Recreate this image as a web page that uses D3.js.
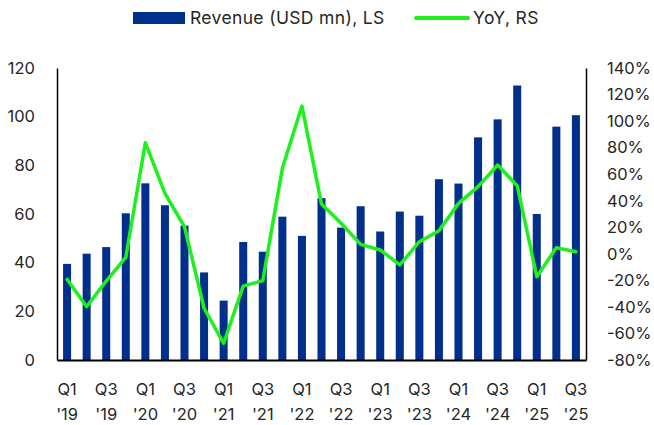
<!DOCTYPE html>
<html>
<head>
<meta charset="utf-8">
<script src="https://cdn.jsdelivr.net/npm/d3@7"></script>
<style>
  body { margin: 0; background: #fff; }
  text { font-family: Inter, "Noto Sans", sans-serif; fill: #262626; }
</style>
</head>
<body>
<div id="chart"></div>
<script>
const quarters = [
  "Q1 '19", "Q2 '19", "Q3 '19", "Q4 '19",
  "Q1 '20", "Q2 '20", "Q3 '20", "Q4 '20",
  "Q1 '21", "Q2 '21", "Q3 '21", "Q4 '21",
  "Q1 '22", "Q2 '22", "Q3 '22", "Q4 '22",
  "Q1 '23", "Q2 '23", "Q3 '23", "Q4 '23",
  "Q1 '24", "Q2 '24", "Q3 '24", "Q4 '24",
  "Q1 '25", "Q2 '25", "Q3 '25"
]
const revenue = [39.5, 43.7, 46.4, 60.3, 72.6, 63.6, 55.2, 36.0, 24.4, 48.5, 44.5, 58.9, 51.0, 66.5,
  54.4, 63.2, 52.8, 61.0, 59.3, 74.3, 72.5, 91.5, 98.9, 112.8, 60.0, 95.9, 100.6]
const yoy = [-19.2, -39.8, -20.5, -2.6, 83.7, 45.6, 20.4, -41, -67.4, -24.3, -20.2, 64.4, 111.3, 37.5,
  23, 7.1, 2.9, -8.4, 9.1, 17.4, 38, 50.6, 66.9, 51.3, -17.2, 4.6, 1.6]
const leftTicks = [0, 20, 40, 60, 80, 100, 120]
const rightTicks = [-80, -60, -40, -20, 0, 20, 40, 60, 80, 100, 120, 140]

const barColor = "#00308c"
const lineColor = "#1ef01e"

const width = 654, height = 425
const margin = { top: 68, right: 68, bottom: 65, left: 57 }

const svg = d3.select("#chart")
  .append("svg")
  .attr("width", width)
  .attr("height", height)

const x = d3.scaleBand()
  .domain(quarters)
  .range([margin.left, width - margin.right])
  .paddingInner(0.59)
  .paddingOuter(0.31)

const yL = d3.scaleLinear().domain([0, 120]).range([height - margin.bottom, margin.top])
const yR = d3.scaleLinear().domain([-80, 140]).range([height - margin.bottom, margin.top])

// bars
svg.append("g")
  .selectAll("rect")
  .data(revenue)
  .join("rect")
  .attr("x", (d, i) => x(quarters[i]))
  .attr("y", d => yL(d))
  .attr("width", x.bandwidth())
  .attr("height", d => yL(0) - yL(d))
  .attr("fill", barColor)

// YoY line
const line = d3.line()
  .x((d, i) => x(quarters[i]) + x.bandwidth() / 2)
  .y(d => yR(d))

svg.append("path")
  .datum(yoy)
  .attr("d", line)
  .attr("fill", "none")
  .attr("stroke", lineColor)
  .attr("stroke-width", 3.5)
  .attr("stroke-linejoin", "round")
  .attr("stroke-linecap", "round")

// left axis
const axL = svg.append("g")
  .attr("transform", `translate(${margin.left},0)`)
  .call(d3.axisLeft(yL).tickValues(leftTicks).tickSize(0).tickPadding(22))
axL.select(".domain").attr("stroke", "#000").attr("stroke-width", 1.5)
axL.selectAll("text").style("font-size", "16.5px")

// right axis
const axR = svg.append("g")
  .attr("transform", `translate(${width - margin.right},0)`)
  .call(d3.axisRight(yR).tickValues(rightTicks).tickSize(0).tickPadding(21).tickFormat(d => d + "%"))
axR.select(".domain").attr("stroke", "#000").attr("stroke-width", 1.5)
axR.selectAll("text").style("font-size", "16.5px")

// bottom axis, only Q1 and Q3 labelled
const axB = svg.append("g")
  .attr("transform", `translate(0,${height - margin.bottom})`)
  .call(d3.axisBottom(x).tickSize(0).tickFormat(""))
axB.select(".domain").attr("stroke", "#000").attr("stroke-width", 2)

const labels = svg.append("g")
  .selectAll("text")
  .data(quarters.filter((q, i) => i % 2 === 0))
  .join("text")
  .attr("text-anchor", "middle")
  .style("font-size", "16.5px")

labels.append("tspan")
  .attr("x", d => x(d) + x.bandwidth() / 2)
  .attr("y", 395)
  .text(d => d.split(" ")[0])
labels.append("tspan")
  .attr("x", d => x(d) + x.bandwidth() / 2)
  .attr("y", 420)
  .text(d => d.split(" ")[1])

// legend
const legend = svg.append("g")
legend.append("rect")
  .attr("x", 133).attr("y", 12)
  .attr("width", 52).attr("height", 12)
  .attr("fill", barColor)
legend.append("text")
  .attr("x", 190).attr("y", 24)
  .style("font-size", "17.5px")
  .style("letter-spacing", "0.35px")
  .text("Revenue (USD mn), LS")
legend.append("line")
  .attr("x1", 416).attr("x2", 468)
  .attr("y1", 18).attr("y2", 18)
  .attr("stroke", lineColor)
  .attr("stroke-width", 4)
  .attr("stroke-linecap", "round")
legend.append("text")
  .attr("x", 473).attr("y", 24)
  .style("font-size", "17.5px")
  .style("letter-spacing", "0.35px")
  .text("YoY, RS")
</script>
</body>
</html>
